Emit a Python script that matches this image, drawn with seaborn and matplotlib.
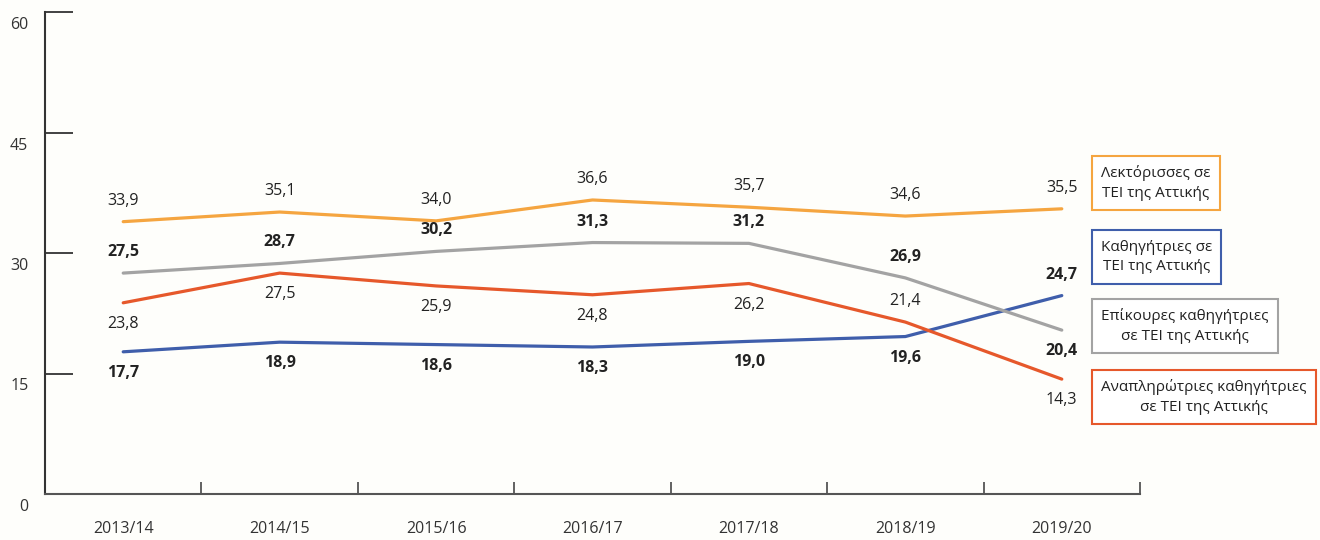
import numpy as np
import pandas as pd
import seaborn as sns
import matplotlib.pyplot as plt
from matplotlib.transforms import ScaledTranslation

## Data
years = ["2013/14", "2014/15", "2015/16", "2016/17", "2017/18", "2018/19", "2019/20"]
lektorisses = [33.9, 35.1, 34.0, 36.6, 35.7, 34.6, 35.5]
epikoures = [27.5, 28.7, 30.2, 31.3, 31.2, 26.9, 20.4]
anaplirotries = [23.8, 27.5, 25.9, 24.8, 26.2, 21.4, 14.3]
kathigitries = [17.7, 18.9, 18.6, 18.3, 19.0, 19.6, 24.7]

series_names = ["Λεκτόρισσες σε\nΤΕΙ της Αττικής",
                "Καθηγήτριες σε\nΤΕΙ της Αττικής",
                "Επίκουρες καθηγήτριες\nσε ΤΕΙ της Αττικής",
                "Αναπληρώτριες καθηγήτριες\nσε ΤΕΙ της Αττικής"]
series_values = [lektorisses, kathigitries, epikoures, anaplirotries]
# +1 label above the line, -1 below
label_side = [
    [1, 1, 1, 1, 1, 1, 1],
    [-1, -1, -1, -1, -1, -1, 1],
    [1, 1, 1, 1, 1, 1, -1],
    [-1, -1, -1, -1, -1, 1, -1],
]
colors = ["#F5A540", "#3F5EAB", "#A3A3A3", "#E6582B"]
bold = [False, True, True, False]

rows = []
for name, vals in zip(series_names, series_values):
    for i, v in enumerate(vals):
        rows.append({"idx": i, "value": v, "series": name})
df = pd.DataFrame(rows)

sns.set_style("white")
plt.rcParams['font.family'] = ['Open Sans', 'DejaVu Sans']

fig = plt.figure(figsize=(13.2, 5.4), dpi=100)
fig.patch.set_facecolor("#FEFEFB")
ax = fig.add_axes([45 / 1320, 1 - 494 / 540, (1140 - 45) / 1320, (494 - 12) / 540])
ax.set_facecolor("#FEFEFB")

sns.lineplot(data=df, x="idx", y="value", hue="series", palette=dict(zip(series_names, colors)),
             hue_order=series_names, linewidth=2.3, sort=False, legend=False, ax=ax)

# value labels
for s, (name, vals) in enumerate(zip(series_names, series_values)):
    for i, v in enumerate(vals):
        side = label_side[s][i]
        ax.annotate(f"{v:.1f}".replace(".", ","), (i, v), xytext=(0, 21 * side),
                    textcoords="offset pixels", ha="center", va="center",
                    fontsize=11.5, color="#222222",
                    fontweight="bold" if bold[s] else "normal")

ax.set_xlim(-0.5, len(years) - 0.5)
ax.set_ylim(0, 60)
ax.set_yticks([0, 15, 30, 45, 60])
ax.set_xticks(range(len(years)))
ax.set_xticklabels(years)
ax.set_xticks(np.arange(-0.5, len(years), 1.0), minor=True)
ax.set_xlabel("")
ax.set_ylabel("")

ax.tick_params(axis="y", left=True, direction="in", length=20, width=1.3, color="#333333",
               labelsize=11.5, labelcolor="#333333", pad=12)
ax.tick_params(axis="x", which="major", bottom=False, labelsize=11.5, labelcolor="#333333", pad=16)
ax.tick_params(axis="x", which="minor", bottom=True, direction="in", length=9, width=1.3,
               color="#555555")
for lab in ax.get_yticklabels():
    lab.set_transform(lab.get_transform() + ScaledTranslation(0, -0.11, fig.dpi_scale_trans))

sns.despine(ax=ax)
ax.spines["left"].set_color("#333333")
ax.spines["left"].set_linewidth(1.5)
ax.spines["bottom"].set_color("#555555")
ax.spines["bottom"].set_linewidth(1.5)

# legend boxes
box_y = [183, 257, 326, 397]
for name, col, y in zip(series_names, colors, box_y):
    fig.text(1101 / 1320, 1 - y / 540, name, ha="left", va="center", multialignment="center",
             fontsize=11, color="#222222", linespacing=1.45,
             bbox=dict(boxstyle="square,pad=0.6", facecolor="white", edgecolor=col, linewidth=1.5))

plt.savefig("out.png", dpi=100, facecolor=fig.get_facecolor())
